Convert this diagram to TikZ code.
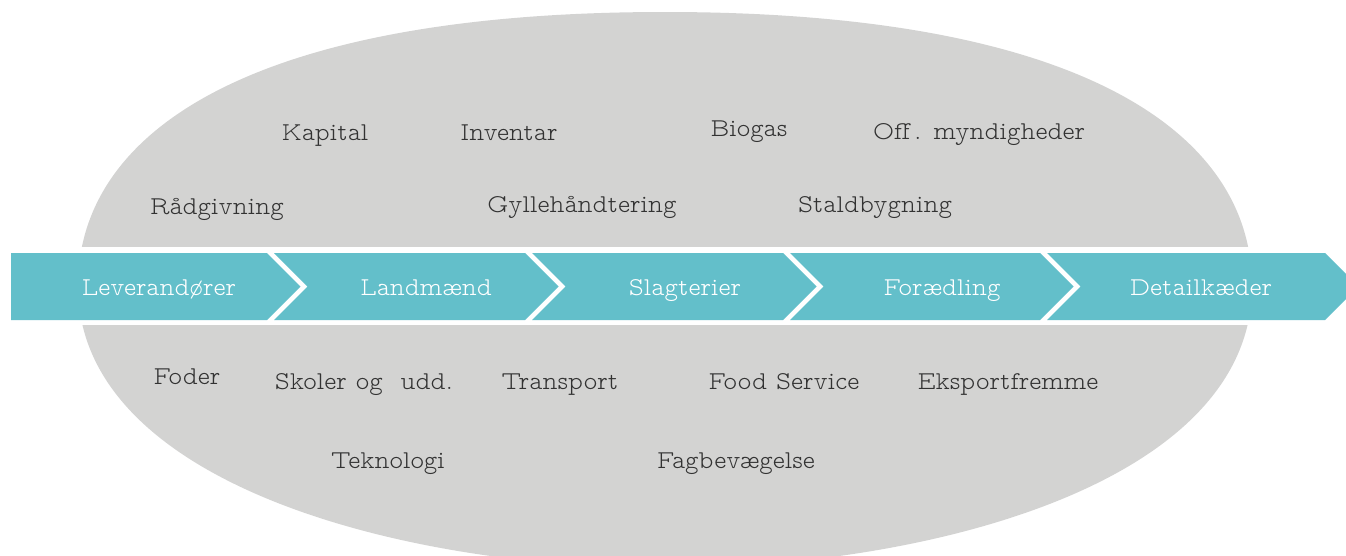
\documentclass[tikz,border=0pt]{standalone}
\usepackage{fontspec}
\setmainfont{lmmonoproplt10-regular.otf}
\definecolor{chevcol}{RGB}{99,191,202}
\definecolor{blobcol}{RGB}{211,211,210}
\definecolor{txtcol}{RGB}{50,50,50}
\begin{document}
\begin{tikzpicture}[x=1pt,y=-1pt,
  lbl/.style={anchor=base, text=txtcol, font=\fontsize{25.7}{26}\selectfont, inner sep=0pt},
  clbl/.style={anchor=base, text=white, font=\fontsize{25.7}{26}\selectfont, inner sep=0pt},
  chevshape/.style={fill=chevcol, draw=none}]
\useasboundingbox (0,0) rectangle (1346,555);
% grey blob
\fill[blobcol] (78,286) .. controls (78,129) and (256,12) .. (665,12)
  .. controls (1074,12) and (1252,129) .. (1252,286)
  .. controls (1252,483) and (929,568) .. (665,568)
  .. controls (401,568) and (78,483) .. (78,286) -- cycle;
% white strip
\fill[white] (0,247) rectangle (1346,325);
% chevrons
\fill[chevshape] (11,253) -- (267,253) -- (300.5,286.5) -- (267,320) -- (11,320) -- cycle;
\foreach \l/\r in {274/525, 532/783, 790/1040, 1047/1325}{
  \fill[chevshape] (\l,253) -- (\r,253) -- ({\r+33.5},286.5) -- (\r,320) -- (\l,320) -- ({\l+33.5},286.5) -- cycle;
}
% chevron labels
\node[clbl] (lev) at (159,295) {Leverandører};
\node[clbl] (lan) at (426,295) {Landmænd};
\node[clbl] (sla) at (685,295) {Slagterier};
\node[clbl] (for) at (942,295) {Forædling};
\node[clbl] (det) at (1201,295) {Detailkæder};
% upper labels
\node[lbl] (kap) at (325,140) {Kapital};
\node[lbl] (inv) at (509,140) {Inventar};
\node[lbl] (bio) at (749,136) {Biogas};
\node[lbl] (off) at (979,139) {Off\,. myndigheder};
\node[lbl] (rad) at (217,214) {Rådgivning};
\node[lbl] (gyl) at (582,212) {Gyllehåndtering};
\node[lbl] (sta) at (875,212) {Staldbygning};
% lower labels
\node[lbl] (fod) at (187,384) {Foder};
\node[lbl] (sko) at (364,389) {Skoler og\ \ udd.};
\node[lbl] (tra) at (560,389) {Transport};
\node[lbl] (foo) at (784,389) {Food Service};
\node[lbl] (eks) at (1008,389) {Eksportfremme};
\node[lbl] (tek) at (388,468) {Teknologi};
\node[lbl] (fag) at (736,468) {Fagbevægelse};
\end{tikzpicture}
\end{document}
